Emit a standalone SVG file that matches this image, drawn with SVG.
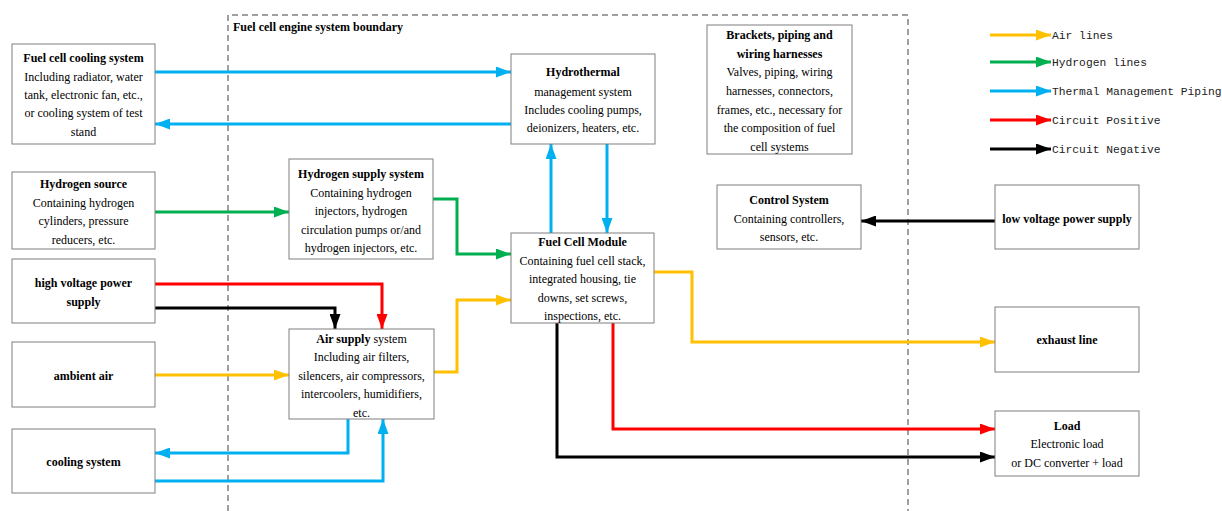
<svg xmlns="http://www.w3.org/2000/svg" width="1222" height="511" viewBox="0 0 1222 511">
<style>
.box{fill:#fff;stroke:#7f7f7f;stroke-width:1}
text{font-family:"Liberation Serif","Times New Roman",serif;font-size:12px;fill:#000}
.c{text-anchor:middle}
.b{font-weight:bold}
.lg{font-family:"Liberation Mono","Courier New",monospace;font-size:11.3px;fill:#222}
.ln{fill:none;stroke-width:3;stroke-linejoin:miter}
.air{stroke:#FFC000}.h2{stroke:#00B050}.th{stroke:#00B0F0}.pos{stroke:#FF0000}.neg{stroke:#000}
</style>
<defs>
<marker id="aA" markerUnits="userSpaceOnUse" markerWidth="15" markerHeight="11" refX="15" refY="5.5" orient="auto"><path d="M0,0 L15,5.5 L0,11 z" fill="#FFC000"/></marker>
<marker id="aH" markerUnits="userSpaceOnUse" markerWidth="15" markerHeight="11" refX="15" refY="5.5" orient="auto"><path d="M0,0 L15,5.5 L0,11 z" fill="#00B050"/></marker>
<marker id="aT" markerUnits="userSpaceOnUse" markerWidth="15" markerHeight="11" refX="15" refY="5.5" orient="auto"><path d="M0,0 L15,5.5 L0,11 z" fill="#00B0F0"/></marker>
<marker id="aP" markerUnits="userSpaceOnUse" markerWidth="15" markerHeight="11" refX="15" refY="5.5" orient="auto"><path d="M0,0 L15,5.5 L0,11 z" fill="#FF0000"/></marker>
<marker id="aN" markerUnits="userSpaceOnUse" markerWidth="15" markerHeight="11" refX="15" refY="5.5" orient="auto"><path d="M0,0 L15,5.5 L0,11 z" fill="#000"/></marker>
</defs>
<rect width="1222" height="511" fill="#fff"/>

<g id="boundary">
<path d="M228,511 V15 H908 V511" fill="none" stroke="#404040" stroke-width="1" stroke-dasharray="6,4"/>
<text x="233" y="31" class="b">Fuel cell engine system boundary</text>
</g>

<g id="legend">
<path class="ln air" d="M990,35 H1051" marker-end="url(#aA)"/>
<text class="lg" x="1052" y="39">Air lines</text>
<path class="ln h2" d="M990,62 H1051" marker-end="url(#aH)"/>
<text class="lg" x="1052" y="66">Hydrogen lines</text>
<path class="ln th" d="M990,91 H1051" marker-end="url(#aT)"/>
<text class="lg" x="1052" y="95">Thermal Management Piping</text>
<path class="ln pos" d="M990,120 H1051" marker-end="url(#aP)"/>
<text class="lg" x="1052" y="124">Circuit Positive</text>
<path class="ln neg" d="M990,149 H1051" marker-end="url(#aN)"/>
<text class="lg" x="1052" y="153">Circuit Negative</text>
</g>

<g id="connectors">
<path class="ln th" d="M155,72 H511" marker-end="url(#aT)"/>
<path class="ln th" d="M511,124 H155" marker-end="url(#aT)"/>
<path class="ln th" d="M551,233 V144" marker-end="url(#aT)"/>
<path class="ln th" d="M607,144 V233" marker-end="url(#aT)"/>
<path class="ln h2" d="M155,212 H289" marker-end="url(#aH)"/>
<path class="ln h2" d="M433,199 H457 V254 H511" marker-end="url(#aH)"/>
<path class="ln air" d="M434,372 H457 V300 H511" marker-end="url(#aA)"/>
<path class="ln air" d="M155,375 H289" marker-end="url(#aA)"/>
<path class="ln air" d="M654,272 H692 V342 H995" marker-end="url(#aA)"/>
<path class="ln pos" d="M155,284 H382 V329" marker-end="url(#aP)"/>
<path class="ln neg" d="M155,308 H335 V329" marker-end="url(#aN)"/>
<path class="ln th" d="M348,419 V453 H155" marker-end="url(#aT)"/>
<path class="ln th" d="M155,481 H383 V419" marker-end="url(#aT)"/>
<path class="ln pos" d="M613,323 V429 H995" marker-end="url(#aP)"/>
<path class="ln neg" d="M557,323 V457 H995" marker-end="url(#aN)"/>
<path class="ln neg" d="M995,221 H861" marker-end="url(#aN)"/>
</g>

<g id="fuel-cell-cooling">
<rect class="box" x="12" y="44" width="143" height="100"/>
<text class="c b" x="83.5" y="62">Fuel cell cooling system</text>
<text class="c" x="83.5" y="81">Including radiator, water</text>
<text class="c" x="83.5" y="99">tank, electronic fan, etc.,</text>
<text class="c" x="83.5" y="117">or cooling system of test</text>
<text class="c" x="83.5" y="136">stand</text>
</g>

<g id="hydrothermal">
<rect class="box" x="511" y="54" width="144" height="90"/>
<text class="c b" x="583" y="76">Hydrothermal</text>
<text class="c" x="583" y="96">management system</text>
<text class="c" x="583" y="114">Includes cooling pumps,</text>
<text class="c" x="583" y="132">deionizers, heaters, etc.</text>
</g>

<g id="brackets">
<rect class="box" x="707" y="25" width="145" height="129"/>
<text class="c b" x="779.5" y="39">Brackets, piping and</text>
<text class="c b" x="779.5" y="58">wiring harnesses</text>
<text class="c" x="779.5" y="76">Valves, piping, wiring</text>
<text class="c" x="779.5" y="95">harnesses, connectors,</text>
<text class="c" x="779.5" y="114">frames, etc., necessary for</text>
<text class="c" x="779.5" y="132">the composition of fuel</text>
<text class="c" x="779.5" y="151">cell systems</text>
</g>

<g id="hydrogen-supply">
<rect class="box" x="289" y="159" width="144" height="100"/>
<text class="c b" x="361" y="178">Hydrogen supply system</text>
<text class="c" x="361" y="197">Containing hydrogen</text>
<text class="c" x="361" y="215">injectors, hydrogen</text>
<text class="c" x="361" y="234">circulation pumps or/and</text>
<text class="c" x="361" y="252">hydrogen injectors, etc.</text>
</g>

<g id="fuel-cell-module">
<rect class="box" x="511" y="233" width="143" height="90"/>
<text class="c b" x="582.5" y="246">Fuel Cell Module</text>
<text class="c" x="582.5" y="265">Containing fuel cell stack,</text>
<text class="c" x="582.5" y="283">integrated housing, tie</text>
<text class="c" x="582.5" y="302">downs, set screws,</text>
<text class="c" x="582.5" y="320">inspections, etc.</text>
</g>

<g id="air-supply">
<rect class="box" x="289" y="329" width="145" height="90"/>
<text class="c" x="361.5" y="343"><tspan class="b">Air supply</tspan> system</text>
<text class="c" x="361.5" y="361">Including air filters,</text>
<text class="c" x="361.5" y="380">silencers, air compressors,</text>
<text class="c" x="361.5" y="398">intercoolers, humidifiers,</text>
<text class="c" x="361.5" y="417">etc.</text>
</g>

<g id="hydrogen-source">
<rect class="box" x="12" y="172" width="143" height="77"/>
<text class="c b" x="83.5" y="188">Hydrogen source</text>
<text class="c" x="83.5" y="207">Containing hydrogen</text>
<text class="c" x="83.5" y="225">cylinders, pressure</text>
<text class="c" x="83.5" y="244">reducers, etc.</text>
</g>

<g id="high-voltage">
<rect class="box" x="12" y="259" width="143" height="64"/>
<text class="c b" x="83.5" y="287">high voltage power</text>
<text class="c b" x="83.5" y="306">supply</text>
</g>

<g id="ambient-air">
<rect class="box" x="12" y="342" width="143" height="65"/>
<text class="c b" x="83.5" y="380">ambient air</text>
</g>

<g id="cooling-system">
<rect class="box" x="12" y="429" width="143" height="64"/>
<text class="c b" x="83.5" y="466">cooling system</text>
</g>

<g id="control-system">
<rect class="box" x="717" y="185" width="144" height="64"/>
<text class="c b" x="789" y="204">Control System</text>
<text class="c" x="789" y="222.5">Containing controllers,</text>
<text class="c" x="789" y="241">sensors, etc.</text>
</g>

<g id="low-voltage">
<rect class="box" x="995" y="185" width="144" height="64"/>
<text class="c b" x="1067" y="223">low voltage power supply</text>
</g>

<g id="exhaust">
<rect class="box" x="995" y="307" width="144" height="65"/>
<text class="c b" x="1067" y="344">exhaust line</text>
</g>

<g id="load">
<rect class="box" x="995" y="411" width="144" height="65"/>
<text class="c b" x="1067" y="430">Load</text>
<text class="c" x="1067" y="448">Electronic load</text>
<text class="c" x="1067" y="467">or DC converter + load</text>
</g>
</svg>
